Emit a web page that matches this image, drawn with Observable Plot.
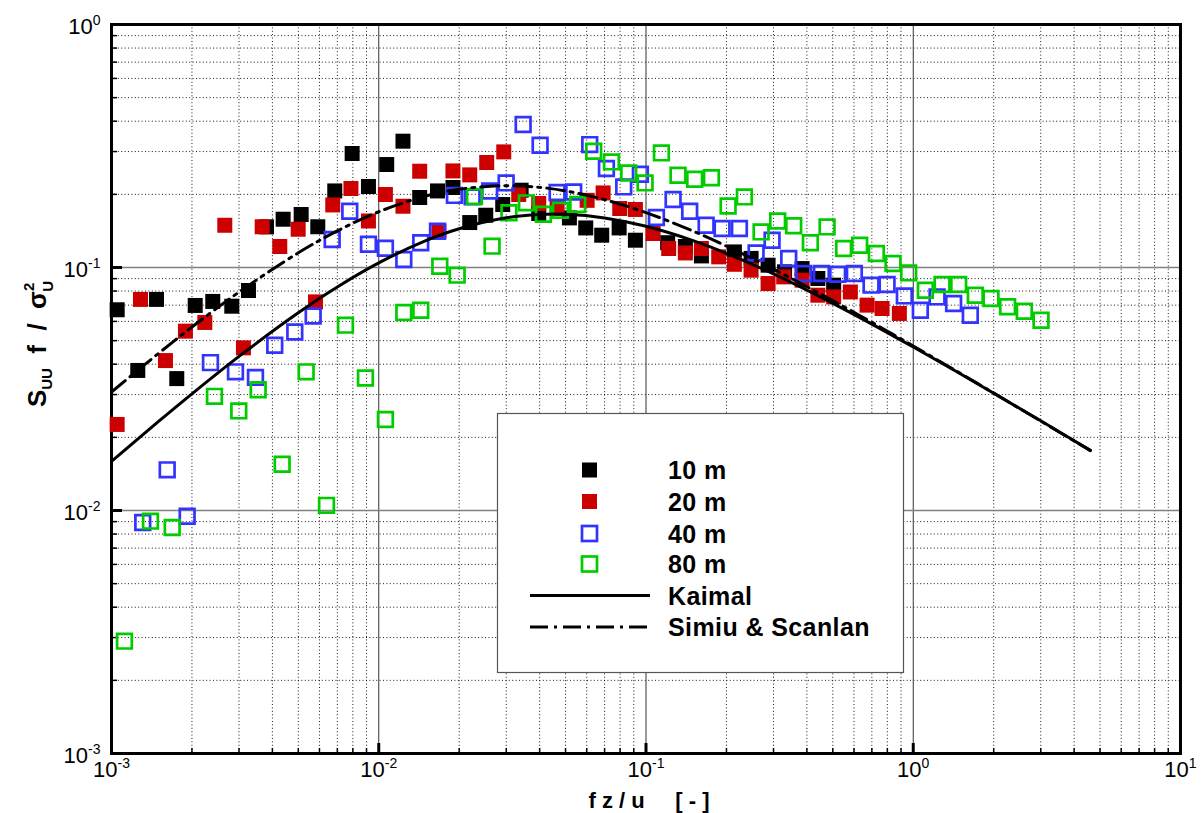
<!DOCTYPE html>
<html><head><meta charset="utf-8">
<script src="https://cdn.jsdelivr.net/npm/d3@7"></script>
<script src="https://cdn.jsdelivr.net/npm/@observablehq/plot@0.6"></script>
<style>
body{margin:0;background:#fff;}
#chart svg{display:block;}
</style></head><body><div id="chart"></div>
<script>
// ---- data ----
const x10m = [1.05e-3,1.254e-3,1.474e-3,1.755e-3,2.057e-3,2.393e-3,2.819e-3,3.255e-3,3.801e-3,4.388e-3,5.125e-3,5.914e-3,6.846e-3,7.952e-3,9.151e-3,1.071e-2,1.232e-2,1.423e-2,1.659e-2,1.895e-2,2.19e-2,2.514e-2,2.91e-2,3.41e-2,3.968e-2,5.169e-2,5.95e-2,6.828e-2,7.934e-2,9.127e-2,0.1205,0.1404,0.1612,0.2142,0.2473,0.2863,0.33,0.3837,0.4396,0.5037];
const y10m = [0.067,0.0377,0.0739,0.0349,0.0698,0.0725,0.0693,0.0804,0.147,0.158,0.1652,0.1471,0.2066,0.2946,0.2154,0.2653,0.331,0.1941,0.2066,0.2134,0.1531,0.1641,0.1816,0.208,0.1668,0.16,0.1455,0.1358,0.1455,0.1295,0.1265,0.122,0.1116,0.1159,0.109,0.1022,0.096,0.099,0.0901,0.0846];

const x20m = [1.05e-3,1.284e-3,1.592e-3,1.891e-3,2.234e-3,2.654e-3,3.117e-3,3.663e-3,4.262e-3,4.995e-3,5.798e-3,6.729e-3,7.87e-3,9.151e-3,1.059e-2,1.232e-2,1.423e-2,1.68e-2,1.895e-2,2.19e-2,2.535e-2,2.936e-2,3.34e-2,3.968e-2,4.649e-2,6.022e-2,6.911e-2,7.975e-2,9.127e-2,0.1063,0.1216,0.1404,0.1612,0.1871,0.2142,0.2473,0.2863,0.3275,0.3837,0.4396,0.5037,0.5817,0.6718,0.7645,0.8872];
const y20m = [0.0226,0.0739,0.0414,0.0547,0.0594,0.1492,0.0467,0.1471,0.122,0.1437,0.0722,0.1809,0.2114,0.1554,0.1997,0.1787,0.249,0.141,0.2497,0.2405,0.2704,0.2991,0.1997,0.1834,0.1749,0.189,0.2027,0.1749,0.1733,0.138,0.1197,0.1148,0.1197,0.1106,0.1031,0.0975,0.0859,0.0915,0.0887,0.0769,0.0757,0.0793,0.07,0.0678,0.0647];

const x40m = [1.309e-3,1.616e-3,1.919e-3,2.346e-3,2.91e-3,3.457e-3,4.082e-3,4.851e-3,5.684e-3,6.695e-3,7.79e-3,9.151e-3,1.059e-2,1.241e-2,1.436e-2,1.659e-2,1.919e-2,2.236e-2,2.601e-2,2.997e-2,3.47e-2,4.016e-2,4.649e-2,5.364e-2,6.158e-2,7.11e-2,8.254e-2,9.528e-2,0.1094,0.1263,0.1457,0.1679,0.1926,0.2236,0.2582,0.2963,0.342,0.389,0.4532,0.5214,0.602,0.6953,0.798,0.9262,1.063,1.228,1.416,1.635];
const y40m = [0.00893,0.0147,0.00947,0.0406,0.0372,0.0353,0.0479,0.0543,0.0632,0.1303,0.1705,0.1247,0.1201,0.1078,0.1265,0.141,0.198,0.1952,0.2066,0.2229,0.3878,0.3187,0.2035,0.2045,0.3205,0.2555,0.2146,0.2421,0.1606,0.1905,0.1705,0.1492,0.1446,0.1446,0.1148,0.1295,0.1089,0.0945,0.0945,0.0938,0.0945,0.0846,0.0851,0.0764,0.0667,0.0757,0.0711,0.0636];

const x80m = [1.118e-3,1.399e-3,1.687e-3,2.428e-3,2.994e-3,3.539e-3,4.351e-3,5.35e-3,6.375e-3,7.506e-3,8.916e-3,1.059e-2,1.241e-2,1.436e-2,1.692e-2,1.965e-2,2.28e-2,2.655e-2,3.07e-2,3.569e-2,4.132e-2,4.784e-2,5.552e-2,6.373e-2,7.424e-2,8.617e-2,9.922e-2,0.1142,0.1318,0.1521,0.1757,0.2029,0.2334,0.2696,0.311,0.357,0.4121,0.476,0.549,0.6302,0.7278,0.8403,0.9612,1.11,1.282,1.479,1.707,1.954,2.255,2.604,3.007];
const y80m = [0.0029,0.00904,0.00851,0.0295,0.0257,0.0314,0.0155,0.0372,0.0105,0.0579,0.0351,0.0237,0.0653,0.0667,0.1012,0.093,0.196,0.1224,0.168,0.1845,0.1657,0.1721,0.1816,0.3011,0.272,0.245,0.2229,0.2962,0.2398,0.2308,0.2341,0.1792,0.1952,0.1401,0.1554,0.1486,0.1265,0.1469,0.1197,0.1235,0.1142,0.1039,0.095,0.0806,0.0851,0.0851,0.0769,0.0746,0.0689,0.0661,0.0607];

// reference spectra, values
const curveF = [0.001,0.0015,0.002,0.003,0.005,0.007,0.01,0.015,0.02,0.03,0.04,0.05,0.07,0.1,0.15,0.2,0.3,0.5,0.7,1,1.5,2,3,4.6];
const kaimal = [0.01592,0.02325,0.0302,0.04306,0.06512,0.08317,0.10445,0.12893,0.14437,0.16008,0.16528,0.16553,0.15997,0.14774,0.12898,0.11436,0.09405,0.0712,0.05849,0.04706,0.03652,0.03036,0.02339,0.01768];
const simiu  = [0.03073,0.04432,0.05687,0.07922,0.1149,0.1415,0.16958,0.19674,0.20999,0.21716,0.21367,0.20659,0.19022,0.16825,0.14124,0.12253,0.09843,0.07303,0.05945,0.04752,0.03667,0.03043,0.02334,0.01764];

const xMajor = [1e-3,1e-2,1e-1,1,10];
const yMajor = [1e-3,1e-2,1e-1,1];
const xTickText = ["10^-3","10^-2","10^-1","10^0","10^1"];
const yTickText = ["10^-3","10^-2","10^-1","10^0"];
const legendLabels = ["10 m","20 m","40 m","80 m","Kaimal","Simiu & Scanlan"];
const seriesColors = ["#000000","#cc0000","#3333ff","#00cc00"];
const yTitleMarker = "§YTITLE§";

// ---- helpers ----
const rows = (xs, ys) => xs.map((x, i) => ({x, y: ys[i]}));
const minorX = d3.range(-3, 1).flatMap(e => d3.range(2, 10).map(k => k * 10 ** e));
const minorY = d3.range(-3, 0).flatMap(e => d3.range(2, 10).map(k => k * 10 ** e));

const W = 1204, H = 813, ML = 111, MR = 24, MT = 24, MB = 60;
const FW = W - ML - MR, FH = H - MT - MB;
const FONT = "'Liberation Sans', Arial, Helvetica, sans-serif";
const DASHDOT = "18,6,3,6";

const filled = (data, color) => Plot.dot(data, {x: "x", y: "y", symbol: "square", r: 8.46, fill: color, stroke: "none"});
const hollow = (data, color) => Plot.dot(data, {x: "x", y: "y", symbol: "square", r: 8.3, fill: "none", stroke: color, strokeWidth: 2.7});

const plot = Plot.plot({
  width: W, height: H,
  marginLeft: ML, marginRight: MR, marginTop: MT, marginBottom: MB,
  x: {type: "log", domain: [1e-3, 10], axis: null},
  y: {type: "log", domain: [1e-3, 1], axis: null},
  style: {fontFamily: FONT, fontSize: "21px", background: "white", overflow: "visible", color: "black"},
  marks: [
    // minor dotted grid
    Plot.ruleX(minorX, {stroke: "#000", strokeWidth: 1, strokeDasharray: "1,2.4", strokeOpacity: 0.9}),
    Plot.ruleY(minorY, {stroke: "#000", strokeWidth: 1, strokeDasharray: "1,2.4", strokeOpacity: 0.9}),
    // major grid
    Plot.ruleX(xMajor.slice(1, -1), {stroke: "#333", strokeWidth: 1}),
    Plot.ruleY(yMajor.slice(1, -1), {stroke: "#808080", strokeWidth: 1.6}),
    // tick marks on left and bottom edges
    Plot.ruleX(xMajor.slice(1, -1), {insetTop: FH - 10, stroke: "#000", strokeWidth: 3}),
    Plot.ruleY(yMajor.slice(1, -1), {insetRight: FW - 11, stroke: "#000", strokeWidth: 3}),
    Plot.ruleX(minorX, {insetTop: FH - 5, stroke: "#000", strokeWidth: 1.5}),
    Plot.ruleY(minorY, {insetRight: FW - 6, stroke: "#000", strokeWidth: 1.5}),
    Plot.frame({stroke: "#000", strokeWidth: 3}),
    // data
    filled(rows(x10m, y10m), seriesColors[0]),
    filled(rows(x20m, y20m), seriesColors[1]),
    hollow(rows(x40m, y40m), seriesColors[2]),
    hollow(rows(x80m, y80m), seriesColors[3]),
    Plot.line(rows(curveF, kaimal), {x: "x", y: "y", curve: "catmull-rom", stroke: "#000", strokeWidth: 3}),
    Plot.line(rows(curveF, simiu), {x: "x", y: "y", curve: "catmull-rom", stroke: "#000", strokeWidth: 3, strokeDasharray: DASHDOT}),
    // tick labels
    Plot.text(xMajor, {x: d => d, text: (d, i) => xTickText[i], frameAnchor: "bottom", lineAnchor: "top", dy: 8, fontSize: 22, textAnchor: "middle"}),
    Plot.text(yMajor, {y: d => d, text: (d, i) => yTickText[i], frameAnchor: "left", lineAnchor: "middle", textAnchor: "end", dx: -11, dy: 2, fontSize: 22}),
    // axis titles
    Plot.text(["f z / u\u00A0\u00A0\u00A0\u00A0\u00A0[ - ]"], {text: d => d, frameAnchor: "bottom", dy: 47, dx: 3, lineAnchor: "middle", fontWeight: "bold", fontSize: 22}),
    Plot.text([yTitleMarker], {text: d => d, frameAnchor: "left", rotate: -90, dx: -66, dy: -45, textAnchor: "middle", lineAnchor: "bottom", fontWeight: "bold", fontSize: 26})
  ]
});

const svg = d3.select(plot);

svg.selectAll("text").each(function () {
  const t = d3.select(this);
  const s = t.text();
  if (s.includes("^")) {
    // superscript exponents in tick labels
    const [base, exp] = s.split("^");
    t.text(base);
    t.append("tspan").attr("font-size", 14).attr("dy", -9).text(exp);
  } else if (s === yTitleMarker) {
    // y-axis title with sub/superscripts
    t.text("");
    t.append("tspan").text("S");
    t.append("tspan").attr("font-size", 15).attr("dy", 6).text("UU");
    t.append("tspan").attr("dy", -6).text("\u00A0\u00A0f\u00A0\u00A0/\u00A0\u00A0");
    t.append("tspan").text("\u03C3");
    t.append("tspan").attr("font-size", 15).attr("dy", -12).text("2");
    t.append("tspan").attr("font-size", 15).attr("dx", -9).attr("dy", 19).text("U");
  }
});

// legend box
const lg = svg.append("g").attr("font-family", FONT).attr("text-anchor", "start");
lg.append("rect").attr("x", 497.5).attr("y", 413.5).attr("width", 406).attr("height", 259)
  .attr("fill", "white").attr("stroke", "#555").attr("stroke-width", 1.2);
const rowY = [470, 501.5, 533.5, 564, 595.5, 627];
const symX = 589.5, txtX = 668;
legendLabels.forEach((label, i) => {
  const y = rowY[i];
  if (i < 2) {
    lg.append("rect").attr("x", symX - 7.5).attr("y", y - 7.5).attr("width", 15).attr("height", 15).attr("fill", seriesColors[i]);
  } else if (i < 4) {
    lg.append("rect").attr("x", symX - 7.5).attr("y", y - 7.5).attr("width", 15).attr("height", 15)
      .attr("fill", "none").attr("stroke", seriesColors[i]).attr("stroke-width", 2.7);
  } else {
    lg.append("line").attr("x1", 530).attr("x2", 650).attr("y1", y).attr("y2", y)
      .attr("stroke", "#000").attr("stroke-width", 3)
      .attr("stroke-dasharray", i === 5 ? DASHDOT : null);
  }
  lg.append("text").attr("x", txtX).attr("y", y).attr("dy", "0.36em").attr("text-anchor", "start")
    .attr("font-size", 25).attr("letter-spacing", 0.4).attr("font-weight", "bold").attr("fill", "#000").text(label);
});

document.getElementById("chart").appendChild(plot);
</script>
</body></html>
